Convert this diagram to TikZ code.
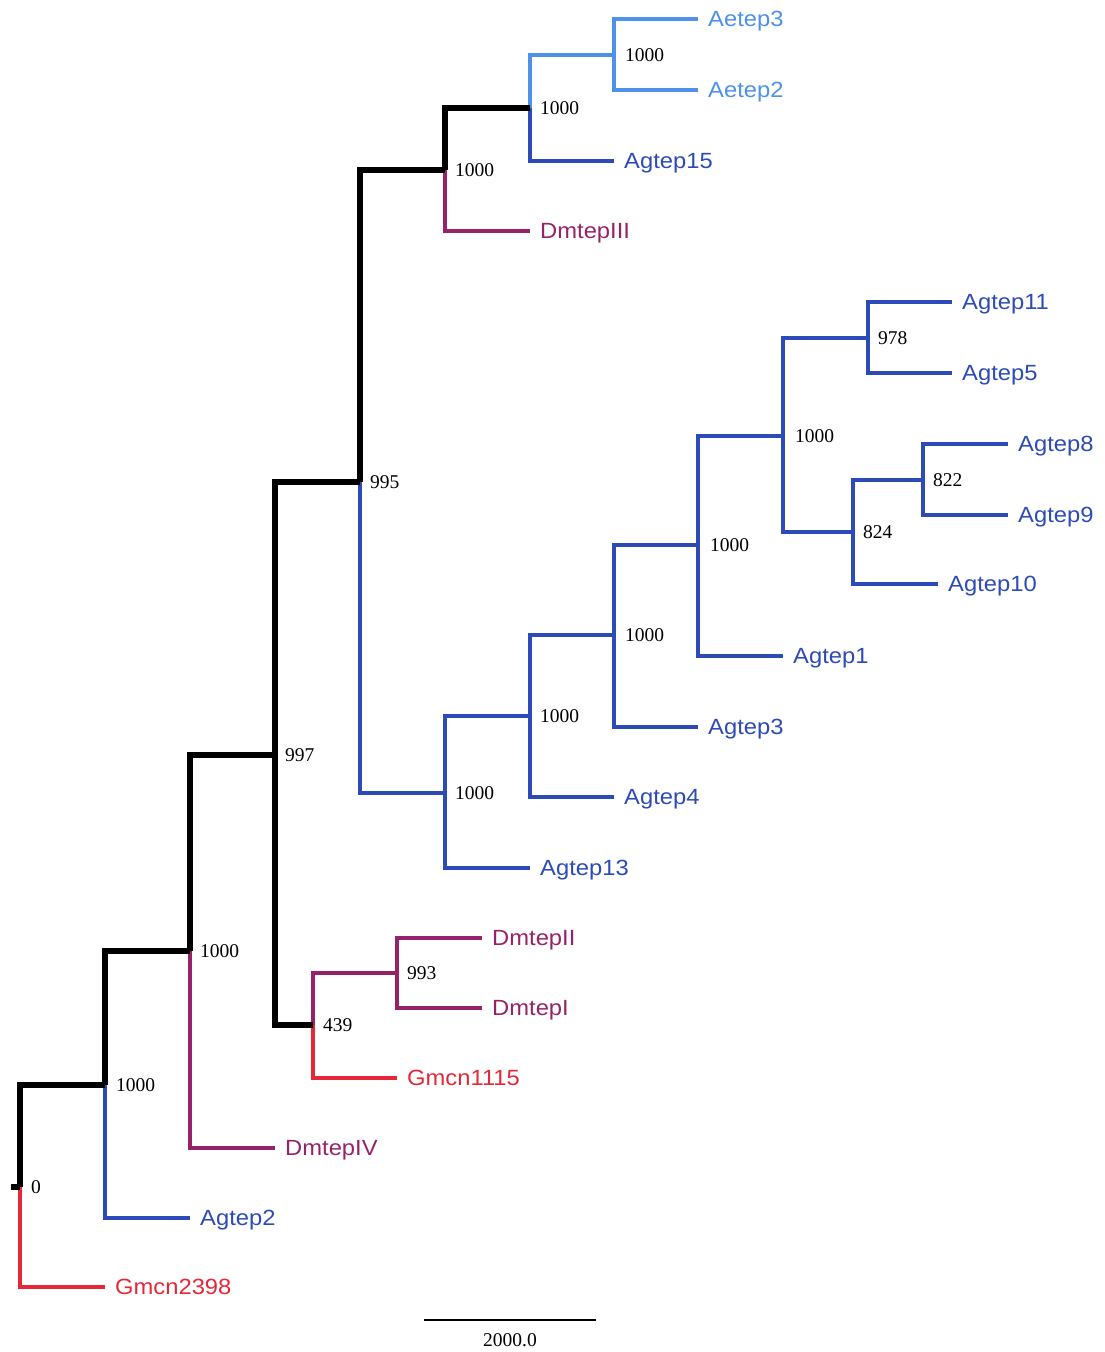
\documentclass[tikz,border=0pt]{standalone}
\usepackage{fontspec}
\newfontfamily\leaffont[FakeStretch=1.08]{Liberation Sans}
\newfontfamily\bootfont{Liberation Serif}
\definecolor{clb}{RGB}{78,145,232}
\definecolor{cdb}{RGB}{45,75,182}
\definecolor{cpu}{RGB}{150,35,105}
\definecolor{cre}{RGB}{228,40,55}
\begin{document}
\begin{tikzpicture}[x=1pt,y=-1pt,
  br/.style={line width=4.6pt},
  brk/.style={line width=5.6pt,draw=black},
  leaflbl/.style={anchor=west,inner xsep=10pt,inner ysep=0pt,text height=15.5pt,text depth=0pt,font=\leaffont\fontsize{22}{22}\selectfont},
  bootlbl/.style={anchor=west,inner sep=0pt,text height=13pt,text depth=0pt,font=\bootfont\fontsize{19.5}{19.5}\selectfont},
]
\path[use as bounding box] (0,0) rectangle (1105,1352);
% internal nodes
\coordinate (R0) at (20,1187);
\coordinate (R00) at (11,1187);
\coordinate (N1) at (105,1085);
\coordinate (N2) at (190,951);
\coordinate (N3) at (275,755);
\coordinate (N4) at (360,482);
\coordinate (N5) at (445,170);
\coordinate (N6) at (530,108);
\coordinate (N7) at (614,55);
\coordinate (N8) at (445,793);
\coordinate (N9) at (530,716);
\coordinate (N10) at (614,635);
\coordinate (N11) at (698,545);
\coordinate (N12) at (783,436);
\coordinate (N13) at (868,338);
\coordinate (N14) at (853,532);
\coordinate (N15) at (923,480);
\coordinate (N16) at (313,1025);
\coordinate (N17) at (397,973);
% bootstrap labels
\node[bootlbl] (bR0) at ([xshift=11pt]R0) {0};
\node[bootlbl] (b1) at ([xshift=11pt]N1) {1000};
\node[bootlbl] (b2) at ([xshift=10pt]N2) {1000};
\node[bootlbl] (b3) at ([xshift=10pt]N3) {997};
\node[bootlbl] (b4) at ([xshift=10pt]N4) {995};
\node[bootlbl] (b5) at ([xshift=10pt]N5) {1000};
\node[bootlbl] (b6) at ([xshift=10pt]N6) {1000};
\node[bootlbl] (b7) at ([xshift=11pt]N7) {1000};
\node[bootlbl] (b8) at ([xshift=10pt]N8) {1000};
\node[bootlbl] (b9) at ([xshift=10pt]N9) {1000};
\node[bootlbl] (b10) at ([xshift=11pt]N10) {1000};
\node[bootlbl] (b11) at ([xshift=12pt]N11) {1000};
\node[bootlbl] (b12) at ([xshift=12pt]N12) {1000};
\node[bootlbl] (b13) at ([xshift=10pt]N13) {978};
\node[bootlbl] (b14) at ([xshift=10pt]N14) {824};
\node[bootlbl] (b15) at ([xshift=10pt]N15) {822};
\node[bootlbl] (b16) at ([xshift=10pt]N16) {439};
\node[bootlbl] (b17) at ([xshift=10pt]N17) {993};
% leaves
\node[leaflbl,text=clb] (aetep3) at (698,19) {Aetep3};
\node[leaflbl,text=clb] (aetep2) at (698,90) {Aetep2};
\node[leaflbl,text=cdb] (agtep15) at (614,161) {Agtep15};
\node[leaflbl,text=cpu] (dmtep3) at (530,231) {DmtepIII};
\node[leaflbl,text=cdb] (agtep11) at (952,302) {Agtep11};
\node[leaflbl,text=cdb] (agtep5) at (952,373) {Agtep5};
\node[leaflbl,text=cdb] (agtep8) at (1008,444) {Agtep8};
\node[leaflbl,text=cdb] (agtep9) at (1008,515) {Agtep9};
\node[leaflbl,text=cdb] (agtep10) at (938,584) {Agtep10};
\node[leaflbl,text=cdb] (agtep1) at (783,656) {Agtep1};
\node[leaflbl,text=cdb] (agtep3) at (698,727) {Agtep3};
\node[leaflbl,text=cdb] (agtep4) at (614,797) {Agtep4};
\node[leaflbl,text=cdb] (agtep13) at (530,868) {Agtep13};
\node[leaflbl,text=cpu] (dmtep2) at (482,938) {DmtepII};
\node[leaflbl,text=cpu] (dmtep1) at (482,1008) {DmtepI};
\node[leaflbl,text=cre] (gmcn1115) at (397,1078) {Gmcn1115};
\node[leaflbl,text=cpu] (dmtep4) at (275,1148) {DmtepIV};
\node[leaflbl,text=cdb] (agtep2) at (190,1218) {Agtep2};
\node[leaflbl,text=cre] (gmcn2398) at (105,1287) {Gmcn2398};
% coloured branches
\draw[br,clb] (N7) |- (aetep3.west);
\draw[br,clb] (N7) |- (aetep2.west);
\draw[br,clb] (N6) |- (N7);
\draw[br,cdb] (N6) |- (agtep15.west);
\draw[br,cpu] (N5) |- (dmtep3.west);
\draw[br,cdb] (N4) |- (N8);
\draw[br,cdb] (N8) |- (N9);
\draw[br,cdb] (N8) |- (agtep13.west);
\draw[br,cdb] (N9) |- (N10);
\draw[br,cdb] (N9) |- (agtep4.west);
\draw[br,cdb] (N10) |- (N11);
\draw[br,cdb] (N10) |- (agtep3.west);
\draw[br,cdb] (N11) |- (N12);
\draw[br,cdb] (N11) |- (agtep1.west);
\draw[br,cdb] (N12) |- (N13);
\draw[br,cdb] (N12) |- (N14);
\draw[br,cdb] (N13) |- (agtep11.west);
\draw[br,cdb] (N13) |- (agtep5.west);
\draw[br,cdb] (N14) |- (N15);
\draw[br,cdb] (N14) |- (agtep10.west);
\draw[br,cdb] (N15) |- (agtep8.west);
\draw[br,cdb] (N15) |- (agtep9.west);
\draw[br,cpu] (N16) |- (N17);
\draw[br,cre] (N16) |- (gmcn1115.west);
\draw[br,cpu] (N17) |- (dmtep2.west);
\draw[br,cpu] (N17) |- (dmtep1.west);
\draw[br,cpu] (N2) |- (dmtep4.west);
\draw[br,cdb] (N1) |- (agtep2.west);
\draw[br,cre] (R0) |- (gmcn2398.west);
% black backbone
\draw[brk] (N5) |- (N6);
\draw[brk] (N4) |- (N5);
\draw[brk] (N3) |- (N4);
\draw[brk] (N3) |- (N16);
\draw[brk] (N2) |- (N3);
\draw[brk] (N1) |- (N2);
\draw[brk] (R0) |- (N1);
\draw[brk] (R00) -- (R0);
% scale bar
\coordinate (sb1) at (424,1320);
\coordinate (sb2) at (596,1320);
\draw[line width=2.4pt] (sb1) -- (sb2);
\node[font=\bootfont\fontsize{19.5}{19.5}\selectfont,inner sep=0pt] (sblbl) at (510,1340) {2000.0};
\end{tikzpicture}
\end{document}
